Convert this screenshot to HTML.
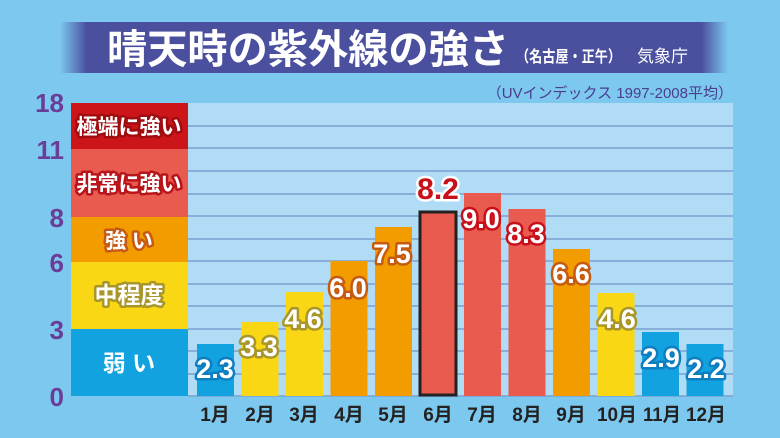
<!DOCTYPE html>
<html><head><meta charset="utf-8"><style>
html,body{margin:0;padding:0;background:#7dc8ef;}
svg{display:block;font-family:"Liberation Sans","Noto Sans CJK JP",sans-serif;}
.v{font-size:27px;font-weight:bold;fill:#fff;stroke-width:5px;paint-order:stroke;stroke-linejoin:round;text-anchor:middle;}
.m{font-size:19px;font-weight:bold;fill:#222;text-anchor:middle;}
.y{font-size:26px;font-weight:bold;fill:#6a3d99;text-anchor:end;}
.l{font-size:21px;font-weight:bold;fill:#fff;stroke-width:5px;paint-order:stroke;stroke-linejoin:round;text-anchor:middle;}
</style></head><body>
<svg width="780" height="438" viewBox="0 0 780 438" xmlns="http://www.w3.org/2000/svg">
<defs>
<linearGradient id="tb" x1="0" x2="1" y1="0" y2="0">
<stop offset="0" stop-color="#4a4f9e" stop-opacity="0"/>
<stop offset="0.04" stop-color="#4a4f9e"/>
<stop offset="0.96" stop-color="#4a4f9e"/>
<stop offset="1" stop-color="#4a4f9e" stop-opacity="0"/>
</linearGradient>
</defs>
<rect width="780" height="438" fill="#7dc8ef"/>
<rect x="60" y="22" width="668" height="51" fill="url(#tb)"/>
<text x="107" y="63" font-size="40" font-weight="bold" fill="#fff" textLength="402" lengthAdjust="spacingAndGlyphs">晴天時の紫外線の強さ</text>
<text x="516" y="62" font-size="16" font-weight="bold" fill="#fff" textLength="105" lengthAdjust="spacingAndGlyphs">（名古屋・正午）</text>
<text x="637" y="62" font-size="17" fill="#fff" textLength="51" lengthAdjust="spacingAndGlyphs">気象庁</text>
<text x="733" y="98" font-size="15" fill="#4a3d8f" text-anchor="end">（UVインデックス 1997-2008平均）</text>
<rect x="188" y="103" width="545" height="293" fill="#b0dcf5"/>
<g stroke="#7d9fd2" stroke-width="1.5">
<line x1="188" x2="733" y1="126" y2="126"/><line x1="188" x2="733" y1="148" y2="148"/>
<line x1="188" x2="733" y1="171" y2="171"/><line x1="188" x2="733" y1="194" y2="194"/>
<line x1="188" x2="733" y1="216" y2="216"/><line x1="188" x2="733" y1="239" y2="239"/>
<line x1="188" x2="733" y1="261" y2="261"/><line x1="188" x2="733" y1="284" y2="284"/>
<line x1="188" x2="733" y1="306" y2="306"/><line x1="188" x2="733" y1="329" y2="329"/>
<line x1="188" x2="733" y1="351" y2="351"/><line x1="188" x2="733" y1="374" y2="374"/>
<line x1="188" x2="733" y1="396" y2="396"/>
</g>
<rect x="71" y="103" width="117" height="46" fill="#cc1518"/>
<rect x="71" y="149" width="117" height="68" fill="#e95a4f"/>
<rect x="71" y="217" width="117" height="45" fill="#f29c00"/>
<rect x="71" y="262" width="117" height="67" fill="#fad714"/>
<rect x="71" y="329" width="117" height="67" fill="#12a2e0"/>
<text class="l" x="129" y="134" stroke="#a00c10">極端に強い</text>
<text class="l" x="129" y="191" stroke="#b8141a">非常に強い</text>
<text class="l" x="129" y="248" stroke="#c65a10">強 い</text>
<text class="l" x="129" y="303" stroke="#a8962a" style="font-size:23px">中程度</text>
<text class="l" x="129" y="371" stroke="#12a2e0" style="font-size:23px">弱 い</text>
<text class="y" x="64" y="112">18</text>
<text class="y" x="64" y="159">11</text>
<text class="y" x="64" y="227">8</text>
<text class="y" x="64" y="272">6</text>
<text class="y" x="64" y="339">3</text>
<text class="y" x="64" y="406">0</text>
<g>
<rect x="197" y="344" width="37" height="52" fill="#12a2e0"/>
<rect x="241.5" y="322" width="37" height="74" fill="#fad714"/>
<rect x="286" y="292" width="37" height="104" fill="#fad714"/>
<rect x="330.5" y="261" width="37" height="135" fill="#f29c00"/>
<rect x="375" y="227" width="37" height="169" fill="#f29c00"/>
<rect x="420" y="212" width="36" height="183" fill="#e95a4f" stroke="#222" stroke-width="3"/>
<rect x="464" y="193" width="37" height="203" fill="#e95a4f"/>
<rect x="508.5" y="209" width="37" height="187" fill="#e95a4f"/>
<rect x="553" y="249" width="37" height="147" fill="#f29c00"/>
<rect x="597.5" y="293" width="37" height="103" fill="#fad714"/>
<rect x="642" y="332" width="37" height="64" fill="#12a2e0"/>
<rect x="686.5" y="344" width="37" height="52" fill="#12a2e0"/>
</g>
<text class="v" x="215" y="378" stroke="#0d7fc0">2.3</text>
<text class="v" x="259" y="356" stroke="#a8962a">3.3</text>
<text class="v" x="303" y="328" stroke="#a8962a">4.6</text>
<text class="v" x="348" y="297" stroke="#c65a10">6.0</text>
<text class="v" x="392" y="263" stroke="#c65a10">7.5</text>
<text class="v" x="438" y="199" stroke="#fff" style="fill:#c8101a;font-size:30px">8.2</text>
<text class="v" x="481" y="228" stroke="#c8101a">9.0</text>
<text class="v" x="526" y="243" stroke="#c8101a">8.3</text>
<text class="v" x="571" y="283" stroke="#c65a10">6.6</text>
<text class="v" x="617" y="328" stroke="#a8962a">4.6</text>
<text class="v" x="661" y="367" stroke="#0d7fc0">2.9</text>
<text class="v" x="706" y="378" stroke="#0d7fc0">2.2</text>
<g>
<text class="m" x="215" y="421">1月</text><text class="m" x="260" y="421">2月</text>
<text class="m" x="304" y="421">3月</text><text class="m" x="349" y="421">4月</text>
<text class="m" x="393" y="421">5月</text><text class="m" x="438" y="421">6月</text>
<text class="m" x="482" y="421">7月</text><text class="m" x="527" y="421">8月</text>
<text class="m" x="571" y="421">9月</text><text class="m" x="617" y="421" textLength="40" lengthAdjust="spacingAndGlyphs">10月</text>
<text class="m" x="662" y="421" textLength="38" lengthAdjust="spacingAndGlyphs">11月</text><text class="m" x="706" y="421" textLength="40" lengthAdjust="spacingAndGlyphs">12月</text>
</g>
</svg>
</body></html>
